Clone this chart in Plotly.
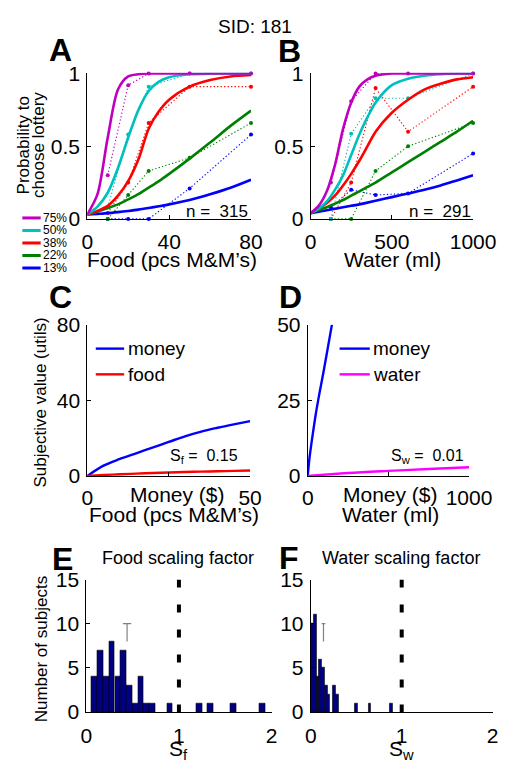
import plotly.graph_objects as go

W, H = 527, 769
FONT = "Liberation Sans, Arial, Helvetica, sans-serif"

# ---------------- data ----------------
levels = ["75%", "50%", "38%", "22%", "13%"]
level_colors = ["#BF00BF", "#00BFBF", "#FF0000", "#008000", "#0000FF"]

# Panel A: food, observed choice proportions
food_obs_x = [10, 20, 30, 50, 80]
food_obs = {
    "75%": [0.30, 0.92, 1.00, 1.00, 1.00],
    "50%": [0.08, 0.58, 0.91, 1.00, 1.00],
    "38%": [0.04, 0.25, 0.66, 0.91, 0.91],
    "22%": [0.00, 0.165, 0.33, 0.42, 0.66],
    "13%": [0.00, 0.00, 0.00, 0.21, 0.58],
}
# Panel A: fitted curves
food_fit_x = [0, 5, 10, 15, 20, 25, 30, 35, 40, 50, 60, 70, 80]
food_fit = {
    "75%": [0.03, 0.17, 0.56, 0.89, 0.98, 0.995, 1.0, 1.0, 1.0, 1.0, 1.0, 1.0, 1.0],
    "50%": [0.03, 0.085, 0.18, 0.35, 0.56, 0.75, 0.88, 0.945, 0.975, 0.995, 1.0, 1.0, 1.0],
    "38%": [0.03, 0.055, 0.09, 0.16, 0.26, 0.41, 0.62, 0.74, 0.82, 0.91, 0.955, 0.98, 0.99],
    "22%": [0.03, 0.05, 0.075, 0.10, 0.135, 0.17, 0.215, 0.26, 0.31, 0.415, 0.525, 0.64, 0.745],
    "13%": [0.03, 0.035, 0.04, 0.047, 0.055, 0.064, 0.075, 0.087, 0.10, 0.13, 0.17, 0.215, 0.27],
}
food_n = 315

# Panel B: water
water_obs_x = [125, 250, 400, 600, 1000]
water_obs = {
    "75%": [0.25, 0.81, 1.00, 1.00, 1.00],
    "50%": [0.00, 0.585, 0.83, 0.83, 1.00],
    "38%": [0.00, 0.25, 0.90, 0.60, 0.91],
    "22%": [0.00, 0.00, 0.33, 0.50, 0.66],
    "13%": [0.08, 0.20, 0.165, 0.175, 0.45],
}
water_fit_x = [0, 50, 100, 150, 200, 250, 300, 350, 400, 500, 600, 700, 800, 900, 1000]
water_fit = {
    "75%": [0.04, 0.09, 0.19, 0.37, 0.62, 0.80, 0.91, 0.96, 0.985, 1.0, 1.0, 1.0, 1.0, 1.0, 1.0],
    "50%": [0.04, 0.07, 0.12, 0.20, 0.30, 0.44, 0.58, 0.70, 0.80, 0.92, 0.965, 0.985, 0.995, 1.0, 1.0],
    "38%": [0.04, 0.07, 0.11, 0.16, 0.23, 0.31, 0.40, 0.50, 0.60, 0.73, 0.82, 0.89, 0.93, 0.96, 0.975],
    "22%": [0.04, 0.06, 0.08, 0.105, 0.13, 0.16, 0.19, 0.22, 0.25, 0.32, 0.39, 0.46, 0.53, 0.60, 0.675],
    "13%": [0.04, 0.05, 0.06, 0.07, 0.08, 0.09, 0.10, 0.112, 0.125, 0.15, 0.175, 0.20, 0.23, 0.265, 0.30],
}
water_n = 291

# Panel C: subjective value, money vs food
c_x = [0, 5, 10, 15, 20, 25, 30, 35, 40, 45, 50]
c_money = [0, 5.5, 9.0, 12.0, 15.0, 18.0, 21.0, 23.5, 25.5, 27.3, 29.0]
c_food = [0, 0.5, 0.9, 1.25, 1.6, 1.85, 2.1, 2.3, 2.5, 2.7, 2.9]
s_food = 0.15

# Panel D: subjective value, money vs water
d_money_x = [0, 10, 25, 50, 75, 100, 125, 150]
d_money = [0, 5.5, 11.5, 20.5, 28.0, 35.0, 42.5, 50.0]
d_water_x = [0, 250, 500, 750, 1000]
d_water = [0, 1.0, 1.7, 2.3, 2.9]
s_water = 0.01

# Panel E: histogram of food scaling factors
e_centers = [0.089, 0.152, 0.214, 0.276, 0.339, 0.401, 0.464, 0.526, 0.588, 0.651,
             0.713, 0.901, 1.217, 1.336, 1.584, 1.899]
e_counts = [4, 7, 4, 8, 4, 7, 3, 1, 4, 1, 1, 1, 1, 1, 1, 1]
e_mean, e_err_lo, e_err_hi = 0.44, 8.0, 10.0

# Panel F: histogram of water scaling factors
f_centers = [0.018, 0.048, 0.078, 0.108, 0.138, 0.168, 0.198, 0.258, 0.288,
             0.498, 0.648, 0.888]
f_counts = [10, 11, 4, 6, 5, 3, 2, 3, 2, 1, 1, 1]
f_mean, f_err_lo, f_err_hi = 0.14, 8.0, 10.0

ref_scale = 1.0

# ---------------- helpers ----------------
def px(x):
    return x / W


def py(y):
    return 1 - y / H


fig = go.Figure()
annotations = []
shapes = []


def ann(text, x, y, size, xanchor="center", yanchor="middle", bold=False, angle=0, color="black"):
    if bold:
        text = "<b>" + text + "</b>"
    annotations.append(dict(text=text, x=px(x), y=py(y), xref="paper", yref="paper",
                            showarrow=False, xanchor=xanchor, yanchor=yanchor,
                            textangle=angle, font=dict(family=FONT, size=size, color=color)))


# ---------------- traces ----------------
# A & B
for axn, obs_x, obs, fit_x, fit in [("", food_obs_x, food_obs, food_fit_x, food_fit),
                                    ("2", water_obs_x, water_obs, water_fit_x, water_fit)]:
    for lv, col in zip(levels[::-1], level_colors[::-1]):
        fig.add_trace(go.Scatter(x=obs_x, y=obs[lv], mode="lines+markers",
                                 line=dict(color=col, width=1.1, dash="1.3px,2.2px"),
                                 marker=dict(color=col, size=4), cliponaxis=False,
                                 xaxis="x" + axn, yaxis="y" + axn, showlegend=False))
    for lv, col in zip(levels[::-1], level_colors[::-1]):
        fig.add_trace(go.Scatter(x=fit_x, y=fit[lv], mode="lines",
                                 line=dict(color=col, width=2.6, shape="spline", smoothing=0.8),
                                 xaxis="x" + axn, yaxis="y" + axn, showlegend=False))

# C
fig.add_trace(go.Scatter(x=c_x, y=c_money, mode="lines", line=dict(color="#0000FF", width=2.4, shape="spline"),
                         xaxis="x3", yaxis="y3", showlegend=False))
fig.add_trace(go.Scatter(x=c_x, y=c_food, mode="lines", line=dict(color="#FF0000", width=2.4, shape="spline"),
                         xaxis="x3", yaxis="y3", showlegend=False))
# D
fig.add_trace(go.Scatter(x=d_money_x, y=d_money, mode="lines", line=dict(color="#0000FF", width=2.4, shape="spline"),
                         xaxis="x4", yaxis="y4", showlegend=False))
fig.add_trace(go.Scatter(x=d_water_x, y=d_water, mode="lines", line=dict(color="#FF00FF", width=2.4, shape="spline"),
                         xaxis="x4", yaxis="y4", showlegend=False))

# E & F histograms
for axn, cen, cnt, bw, m, lo, hi, cap in [("5", e_centers, e_counts, 0.0624, e_mean, e_err_lo, e_err_hi, 0.045),
                                          ("6", f_centers, f_counts, 0.030, f_mean, f_err_lo, f_err_hi, 0.02)]:
    fig.add_trace(go.Bar(x=cen, y=cnt, width=bw, marker=dict(color="#000080", line=dict(color="black", width=0.6)),
                         xaxis="x" + axn, yaxis="y" + axn, showlegend=False))
    fig.add_trace(go.Scatter(x=[m - cap, m + cap, None, m, m], y=[hi, hi, None, hi, lo], mode="lines",
                             line=dict(color="#808080", width=1.2), xaxis="x" + axn, yaxis="y" + axn,
                             showlegend=False))
    fig.add_trace(go.Scatter(x=[ref_scale, ref_scale], y=[15, 0], mode="lines",
                             line=dict(color="black", width=4, dash="8px,17px"),
                             xaxis="x" + axn, yaxis="y" + axn, showlegend=False))

# ---------------- axes ----------------
def axis_common():
    return dict(showline=True, linecolor="black", linewidth=1, ticks="inside", ticklen=4,
                tickcolor="black", showgrid=False, zeroline=False,
                tickfont=dict(family=FONT, size=21, color="black"), mirror=False)


boxes = {
    "": ((86, 259.3), (62.7, 213.3)),
    "2": ((322.3, 494.3), (62.7, 213.3)),
    "3": ((86, 258.3), (322.3, 478.3)),
    "4": ((319.3, 490), (322.3, 478.3)),
    "5": ((85, 281), (585, 721.7)),
    "6": ((322.5, 515), (585, 721.7)),
}
xcfg = {
    "": dict(range=[0, 80], tickvals=[0, 40, 80]),
    "2": dict(range=[0, 1000], tickvals=[0, 500, 1000]),
    "3": dict(range=[0, 50], tickvals=[0, 25, 50], ticktext=["0", " ", "50"]),
    "4": dict(range=[0, 1000], tickvals=[0, 500, 1000], ticktext=["0", " ", "1000"]),
    "5": dict(range=[0, 2], tickvals=[0, 1, 2]),
    "6": dict(range=[0, 2], tickvals=[0, 1, 2]),
}
ycfg = {
    "": dict(range=[0, 1.005], tickvals=[0, 0.5, 1]),
    "2": dict(range=[0, 1.005], tickvals=[0, 0.5, 1]),
    "3": dict(range=[0, 80], tickvals=[0, 40, 80]),
    "4": dict(range=[0, 50], tickvals=[0, 25, 50]),
    "5": dict(range=[0, 15], tickvals=[0, 5, 10, 15]),
    "6": dict(range=[0, 15], tickvals=[0, 5, 10, 15]),
}
x_standoff = {"": 4, "2": 4, "3": 3, "4": 3, "5": 5, "6": 5}
layout_axes = {}
for k, ((x0, x1), (y0, y1)) in boxes.items():
    xa = axis_common()
    xa.update(xcfg[k])
    xa.update(domain=[px(x0), px(x1)], anchor="y" + k, ticklabelstandoff=x_standoff[k])
    ya = axis_common()
    ya.update(ycfg[k])
    ya.update(domain=[py(y1), py(y0)], anchor="x" + k, ticklabelstandoff=2)
    layout_axes["xaxis" + k] = xa
    layout_axes["yaxis" + k] = ya

# ---------------- text ----------------
ann("SID: 181", 263, 15, 19)
for lab, (x, y) in zip("ABCDEF", [(57.5, 39), (300, 40), (58, 294), (301, 294), (60, 564), (299.5, 563)]):
    ann(lab, x, y, 32, bold=True)

ann("Probability to", 18.5, 137, 17, angle=-90)
ann("choose lottery", 35, 137, 17, angle=-90)
ann("Food (pcs M&M’s)", 176, 255, 21)
ann("Water (ml)", 409, 255, 21)
ann("n =  %d" % food_n, 258, 206, 17, xanchor="right")
ann("n =  %d" % water_n, 494, 206, 17, xanchor="right")

# legend A
for i, (lv, col) in enumerate(zip(levels, level_colors)):
    yy = 212.3 + i * 12.9
    shapes.append(dict(type="line", xref="paper", yref="paper", x0=px(17.3), x1=px(36.7), y0=py(yy), y1=py(yy),
                       line=dict(color=col, width=3)))
    ann(lv, 37.5, yy, 12, xanchor="left")

ann("Subjective value (utils)", 36.5, 402, 17, angle=-90)
ann("Money ($)", 181, 497, 21)
ann("Food (pcs M&M’s)", 178, 518, 21)
ann("Money ($)", 407, 497, 21)
ann("Water (ml)", 407, 518, 21)
ann("S<sub>f</sub> =  %.2f" % s_food, 248, 458, 16, xanchor="right")
ann("S<sub>w</sub> =  %.2f" % s_water, 487, 458, 16, xanchor="right")

for (lx0, lx1), items in [((95, 125), [("money", "#0000FF"), ("food", "#FF0000")]),
                          ((353, 385), [("money", "#0000FF"), ("water", "#FF00FF")])]:
    for j, (t, col) in enumerate(items):
        yy = 347 + j * 26.5
        shapes.append(dict(type="line", xref="paper", yref="paper", x0=px(lx0), x1=px(lx1), y0=py(yy), y1=py(yy),
                           line=dict(color=col, width=2.4)))
        ann(t, lx1 + 1.5, yy, 19, xanchor="left")

ann("Food scaling factor", 182, 563, 18)
ann("Water scaling factor", 418, 563, 18)
ann("Number of subjects", 37, 657, 17, angle=-90)
ann("S<sub>f</sub>", 183, 761, 21)
ann("S<sub>w</sub>", 419, 761, 21)

fig.update_layout(
    width=W, height=H, margin=dict(l=0, r=0, t=0, b=0),
    paper_bgcolor="white", plot_bgcolor="white",
    showlegend=False, bargap=0,
    annotations=annotations, shapes=shapes,
    font=dict(family=FONT, color="black"),
    **layout_axes,
)
fig.write_html("out.html")
